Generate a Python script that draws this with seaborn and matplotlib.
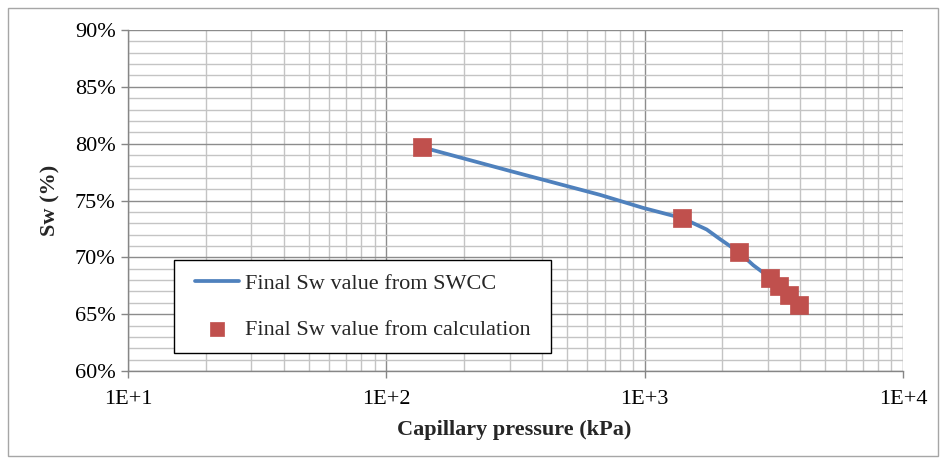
import numpy as np
import pandas as pd
import matplotlib
matplotlib.use("Agg")
import matplotlib.pyplot as plt
from matplotlib.patches import Rectangle
from matplotlib.ticker import FixedLocator, FuncFormatter, LogLocator, NullFormatter
import seaborn as sns

# SWCC curve: capillary pressure (kPa) vs final water saturation (%)
swcc_pressure = [137, 301, 671, 986, 1397, 1542, 1738, 1958, 2317, 2635, 3059, 3311, 3622, 3960]
swcc_sw = [79.7, 77.6, 75.5, 74.35, 73.45, 73.0, 72.45, 71.6, 70.45, 69.3, 68.2, 67.5, 66.7, 65.8]

# Calculated final saturation points
calc_pressure = [137, 1397, 2317, 3059, 3311, 3622, 3960]
calc_sw = [79.7, 73.45, 70.45, 68.2, 67.5, 66.7, 65.8]

x_ticks = [1e1, 1e2, 1e3, 1e4]
x_tick_labels = ["1E+1", "1E+2", "1E+3", "1E+4"]
y_ticks = [60, 65, 70, 75, 80, 85, 90]

sns.set_theme(style="white")
plt.rcParams["font.family"] = ["Liberation Serif", "DejaVu Serif"]

curve_df = pd.DataFrame({"pressure": swcc_pressure, "sw": swcc_sw})
calc_df = pd.DataFrame({"pressure": calc_pressure, "sw": calc_sw})

fig = plt.figure(figsize=(9.4, 4.63), dpi=100)
ax = fig.add_axes([128 / 940, 1 - 371 / 463, 775 / 940, 341 / 463])

sns.lineplot(data=curve_df, x="pressure", y="sw", ax=ax, color="#4F81BD",
             linewidth=2.7, label="Final Sw value from SWCC", zorder=3, sort=False)
sns.scatterplot(data=calc_df, x="pressure", y="sw", ax=ax, color="#C0504D",
                marker="s", s=150, edgecolor="#C0504D", linewidth=0.5,
                label="Final Sw value from calculation", zorder=4)

ax.set_xscale("log")
ax.set_xlim(1e1, 1e4)
ax.set_ylim(60, 90)

ax.xaxis.set_major_locator(FixedLocator(x_ticks))
ax.xaxis.set_major_formatter(FuncFormatter(lambda v, p: x_tick_labels[x_ticks.index(v)] if v in x_ticks else ""))
ax.xaxis.set_minor_locator(LogLocator(base=10, subs=np.arange(2, 10)))
ax.xaxis.set_minor_formatter(NullFormatter())
ax.yaxis.set_major_locator(FixedLocator(y_ticks))
ax.yaxis.set_major_formatter(FuncFormatter(lambda v, p: f"{v:.0f}%"))
ax.yaxis.set_minor_locator(FixedLocator(np.arange(60, 91, 1)))

ax.grid(which="major", color="#8c8c8c", linewidth=1.0, zorder=0)
ax.grid(which="minor", color="#c4c4c4", linewidth=1.0, zorder=0)
ax.set_axisbelow(True)

for side in ["top", "right"]:
    ax.spines[side].set_visible(False)
for side in ["left", "bottom"]:
    ax.spines[side].set_color("#868686")
    ax.spines[side].set_linewidth(1.0)

ax.tick_params(which="major", direction="out", length=5, width=1, color="#868686",
               labelsize=16, labelcolor="black", bottom=True, left=True)
ax.tick_params(which="minor", length=0)
ax.tick_params(axis="x", pad=9)
ax.tick_params(axis="y", pad=4)

ax.set_xlabel("Capillary pressure (kPa)", fontsize=16, fontweight="bold")
ax.set_ylabel("Sw (%)", fontsize=16, fontweight="bold")
ax.xaxis.label.set_va("center")
ax.xaxis.set_label_coords(0.498, -0.173)
ax.yaxis.label.set_va("center")
ax.yaxis.set_label_coords(-0.1006, 0.5)

# Legend box: white panel with a black outline, entries centred inside it
ax.add_patch(Rectangle((0.0594, 0.0528), 0.4865, 0.2727, transform=ax.transAxes,
                       facecolor="white", edgecolor="black", linewidth=1.0, zorder=5))
leg = ax.legend(loc="center", bbox_to_anchor=(0.3026, 0.189), fontsize=16,
                frameon=False, handlelength=2.0, handletextpad=0.25,
                labelspacing=1.15, borderpad=0, borderaxespad=0, markerscale=0.88)
leg.set_zorder(6)

fig.patches.append(Rectangle((8 / 940, 7 / 463), 930 / 940, 448 / 463,
                             transform=fig.transFigure, fill=False,
                             edgecolor="#a6a6a6", linewidth=1.0))

fig.savefig("out.png", dpi=100)
